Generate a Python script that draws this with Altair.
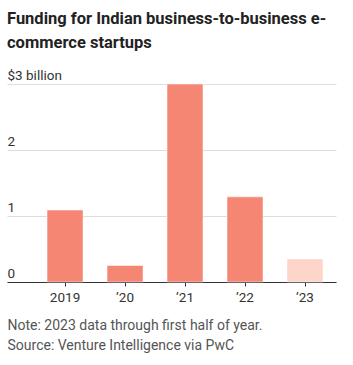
import altair as alt
import pandas as pd

years = ["2019", "’20", "’21", "’22", "’23"]
funding = [1.09, 0.25, 3.0, 1.29, 0.35]
partial = [False, False, False, False, True]

df = pd.DataFrame({"year": years, "funding": funding, "partial": partial})

FONT = "Roboto"

chart = alt.Chart(df).mark_bar(stroke="white", strokeWidth=0.5).encode(
    x=alt.X("year:N", sort=years,
            scale=alt.Scale(paddingInner=0.4, paddingOuter=0.442, align=0.755),
            axis=alt.Axis(title=["Note: 2023 data through first half of year.",
                                 "Source: Venture Intelligence via PwC"],
                          titleAnchor="start", titleAlign="left", titleX=0, titleY=47,
                          titleBaseline="alphabetic",
                          titleFont=FONT, titleFontSize=14, titleFontWeight="normal",
                          titleColor="#555555", titleLineHeight=20,
                          labelAngle=0, labelFont=FONT, labelFontSize=13.5,
                          labelColor="#333333", labelPadding=4,
                          domainColor="#333333", domainWidth=1.2,
                          tickColor="#333333", tickSize=4, grid=False)),
    y=alt.Y("funding:Q", scale=alt.Scale(domain=[0, 3], nice=False),
            axis=alt.Axis(title=None, values=[0, 1, 2, 3],
                          labelExpr="datum.value == 3 ? '$3 billion' : datum.label",
                          labelAlign="left", labelBaseline="bottom", labelPadding=0,
                          labelOffset=-2, labelFont=FONT, labelFontSize=13.5,
                          labelColor="#333333", ticks=False, domain=False,
                          grid=True, gridColor="#dddddd", gridWidth=1)),
    color=alt.Color("partial:N", scale=alt.Scale(domain=[False, True],
                                                 range=["#F58674", "#FDD5C9"]),
                    legend=None),
).properties(
    width=329, height=198,
    title=alt.TitleParams(["Funding for Indian business-to-business e-", "commerce startups"],
                          anchor="start", font=FONT, fontSize=16.5, fontWeight="bold",
                          color="#222222", lineHeight=24, offset=17),
    autosize=alt.AutoSizeParams(type="none"),
    padding={"left": 7, "top": 84, "right": 17, "bottom": 83},
).configure_view(stroke=None)

chart.save("out.html", embed_options={"renderer": "svg", "actions": False})
